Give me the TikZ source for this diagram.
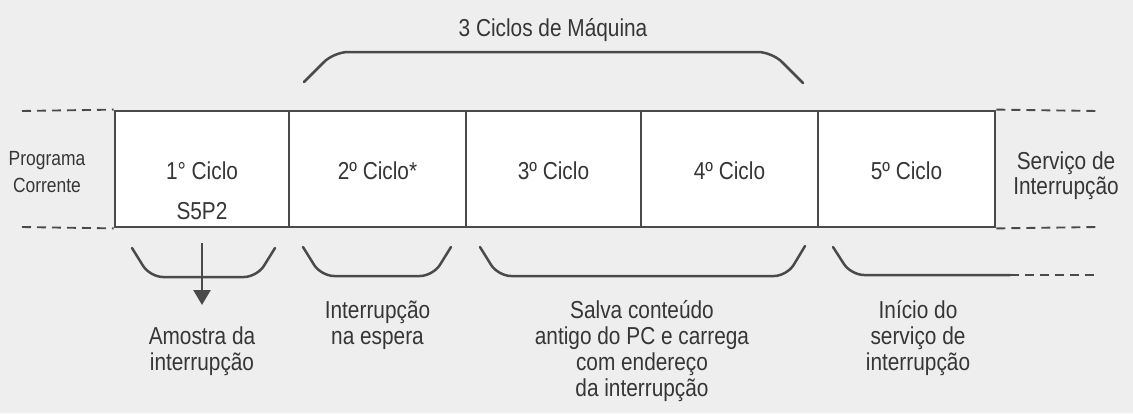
\documentclass[tikz,border=0pt]{standalone}
\usepackage{fontspec}
\setmainfont[FakeStretch=0.85]{Liberation Sans}
\usetikzlibrary{arrows.meta}
\definecolor{ink}{HTML}{4A4A4A}
\definecolor{txt}{HTML}{363636}
\definecolor{paper}{HTML}{EEEEEE}
\newcommand\linesc[1]{\vtop{\halign{\hfil##\hfil\cr#1\crcr}}}
\begin{document}
\begin{tikzpicture}[x=1pt,y=-1pt,
  cyc/.style={draw=ink,line width=2.8pt,fill=white,minimum height=116pt,inner sep=0pt},
  lbl/.style={text=txt,font=\fontsize{24.5}{26}\selectfont,anchor=base,inner sep=0pt},
  sidelbl/.style={text=txt,font=\fontsize{20.5}{27}\selectfont,anchor=base,inner sep=0pt},
  brace/.style={draw=ink,line width=2.5pt,rounded corners=13pt,line cap=round},
  guide/.style={draw=ink,line width=1.9pt,dash pattern=on 9pt off 6pt},
  sample/.style={draw=ink,line width=2.5pt,-{Triangle[width=17pt,length=15pt]}},
]
\fill[paper] (0,0) rectangle (1133,413);
\useasboundingbox (0,0) rectangle (1133,413);

% cycle boxes
\node[cyc,minimum width=174pt] (c1) at (202,169) {};
\node[cyc,minimum width=177pt] (c2) at (377.5,169) {};
\node[cyc,minimum width=175pt] (c3) at (553.5,169) {};
\node[cyc,minimum width=177pt] (c4) at (729.5,169) {};
\node[cyc,minimum width=177pt] (c5) at (906.5,169) {};

% guide lines
\coordinate (gl1) at (22,111);
\coordinate (gl2) at (22,227);
\coordinate (gr1) at (1097,111);
\coordinate (gr2) at (1097,227);
\coordinate (gr3) at (1097,275);
\draw[guide] (gl1) -- (c1.north west);
\draw[guide] (gl2) -- (c1.south west);
\draw[guide] (c5.north east) -- (gr1);
\draw[guide] (c5.south east) -- (gr2);

% box labels
\node[lbl,font=\fontsize{24.5}{40}\selectfont] (t1) at (202,179) {\linesc{1° Ciclo\cr S5P2}};
\node[lbl] (t2) at (377.5,179) {2º Ciclo*};
\node[lbl] (t3) at (553.5,179) {3º Ciclo};
\node[lbl] (t4) at (729.5,179) {4º Ciclo};
\node[lbl] (t5) at (906.5,179) {5º Ciclo};

% side labels
\node[sidelbl] (prog) at (47,165) {\linesc{Programa\cr Corrente}};
\node[lbl,font=\fontsize{24.5}{25}\selectfont] (serv) at (1066,169) {\linesc{Serviço de\cr Interrupção}};

% top brace and title
\draw[brace,rounded corners=14pt] (304,82) -- (334,52) -- (772,52) -- (803,83);
\node[lbl] (title) at (553,36) {3 Ciclos de Máquina};

% bottom braces
\draw[brace] (132,248) -- (150,277) -- (257,277) -- (275,248);
\draw[brace] (303,247) -- (321,276) -- (433,276) -- (451,247);
\draw[brace] (480,247) -- (498,276) -- (787,276) -- (805,246);
\coordinate (b5e) at (1010,275);
\draw[brace] (833,247) -- (851,275) -- (b5e);
\draw[guide] (b5e) -- (gr3);

% sampling arrow
\coordinate (aS) at (202,243);
\coordinate (aE) at (202,305);
\draw[sample] (aS) -- (aE);

% bottom labels
\node[lbl] (l1) at (202,344) {\linesc{Amostra da\cr interrupção}};
\node[lbl] (l2) at (377.5,318) {\linesc{Interrupção\cr na espera}};
\node[lbl] (l3) at (642,318) {\linesc{Salva conteúdo\cr antigo do PC e carrega\cr com endereço\cr da interrupção}};
\node[lbl] (l4) at (918,318) {\linesc{Início do\cr serviço de\cr interrupção}};
\end{tikzpicture}
\end{document}
